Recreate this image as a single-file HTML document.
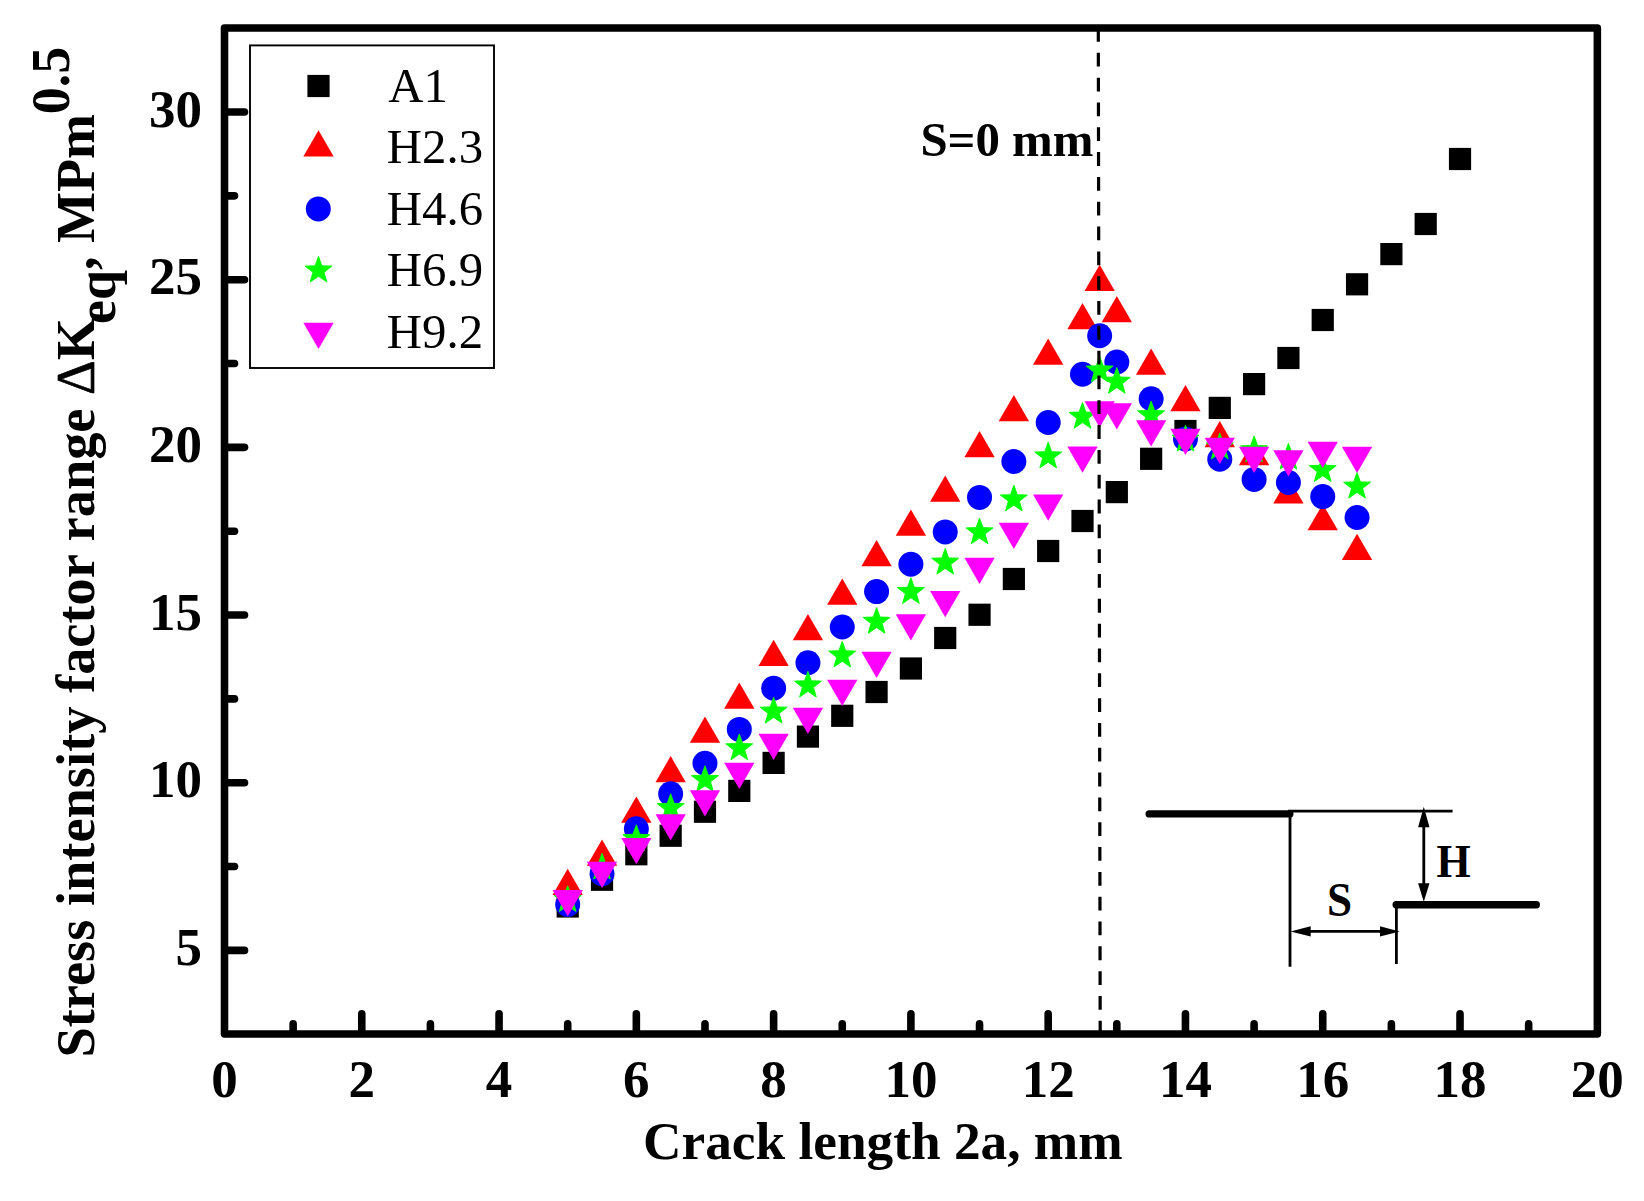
<!DOCTYPE html>
<html><head><meta charset="utf-8"><title>Stress intensity factor range</title>
<style>
html,body{margin:0;padding:0;background:#fff}
svg{display:block}
text{font-family:"Liberation Serif","Times New Roman",serif;fill:#000}
.b{font-weight:bold}
</style></head><body>
<svg width="1644" height="1201" viewBox="0 0 1644 1201">
<rect width="1644" height="1201" fill="#fff"/>
<g stroke="#000" stroke-width="7.6" stroke-linecap="round" fill="none">
<path d="M293.14 1029.9V1023.9"/>
<path d="M361.78 1029.9V1013.9"/>
<path d="M430.42 1029.9V1023.9"/>
<path d="M499.06 1029.9V1013.9"/>
<path d="M567.7 1029.9V1023.9"/>
<path d="M636.34 1029.9V1013.9"/>
<path d="M704.98 1029.9V1023.9"/>
<path d="M773.62 1029.9V1013.9"/>
<path d="M842.26 1029.9V1023.9"/>
<path d="M910.9 1029.9V1013.9"/>
<path d="M979.54 1029.9V1023.9"/>
<path d="M1048.18 1029.9V1013.9"/>
<path d="M1116.82 1029.9V1023.9"/>
<path d="M1185.46 1029.9V1013.9"/>
<path d="M1254.1 1029.9V1023.9"/>
<path d="M1322.74 1029.9V1013.9"/>
<path d="M1391.38 1029.9V1023.9"/>
<path d="M1460.02 1029.9V1013.9"/>
<path d="M1528.66 1029.9V1023.9"/>
<path d="M228.5 950.4H244.5"/>
<path d="M228.5 866.56H234.5"/>
<path d="M228.5 782.72H244.5"/>
<path d="M228.5 698.88H234.5"/>
<path d="M228.5 615.04H244.5"/>
<path d="M228.5 531.2H234.5"/>
<path d="M228.5 447.36H244.5"/>
<path d="M228.5 363.52H234.5"/>
<path d="M228.5 279.68H244.5"/>
<path d="M228.5 195.84H234.5"/>
<path d="M228.5 112H244.5"/>
</g>
<rect x="224.5" y="28" width="1372.85" height="1005.9" fill="none" stroke="#000" stroke-width="7.55" stroke-linejoin="round"/>
<g class="b" font-size="53" text-anchor="middle">
<text x="224.5" y="1096.5">0</text>
<text x="361.78" y="1096.5">2</text>
<text x="499.06" y="1096.5">4</text>
<text x="636.34" y="1096.5">6</text>
<text x="773.62" y="1096.5">8</text>
<text x="910.9" y="1096.5">10</text>
<text x="1048.18" y="1096.5">12</text>
<text x="1185.46" y="1096.5">14</text>
<text x="1322.74" y="1096.5">16</text>
<text x="1460.02" y="1096.5">18</text>
<text x="1597.3" y="1096.5">20</text>
</g>
<g class="b" font-size="53" text-anchor="end">
<text x="202" y="965">5</text>
<text x="202" y="797.32">10</text>
<text x="202" y="629.64">15</text>
<text x="202" y="461.96">20</text>
<text x="202" y="294.28">25</text>
<text x="202" y="126.6">30</text>
</g>
<text class="b" font-size="53.3" x="643" y="1158.5">Crack length 2a, mm</text>
<text class="b" font-size="54.4" transform="translate(93.8 1057.6) rotate(-90)">Stress intensity factor range <tspan font-weight="normal" font-size="54" stroke="#000" stroke-width="0.7">Δ</tspan>K<tspan font-size="54" dy="21" dx="-6.2">eq</tspan><tspan font-size="54" dy="-21">, MPm</tspan><tspan font-size="54" dy="-25">0.5</tspan></text>
<rect x="250" y="45.4" width="244" height="322.6" fill="#fff" stroke="#000" stroke-width="1.9"/>
<g font-size="48.8">
<text x="388.2" y="101.6">A1</text>
<text x="386.8" y="163.1">H2.3</text>
<text x="386.8" y="224.6">H4.6</text>
<text x="386.8" y="286.1">H6.9</text>
<text x="386.8" y="347.6">H9.2</text>
</g>
<g fill="#000"><rect x="556.6" y="895.4" width="22.2" height="22.2"/><rect x="590.92" y="868.65" width="22.2" height="22.2"/><rect x="625.24" y="843.15" width="22.2" height="22.2"/><rect x="659.56" y="824.65" width="22.2" height="22.2"/><rect x="693.88" y="800.65" width="22.2" height="22.2"/><rect x="728.2" y="779.8" width="22.2" height="22.2"/><rect x="762.52" y="751.8" width="22.2" height="22.2"/><rect x="796.84" y="725.5" width="22.2" height="22.2"/><rect x="831.16" y="704.7" width="22.2" height="22.2"/><rect x="865.48" y="680.9" width="22.2" height="22.2"/><rect x="899.8" y="657.4" width="22.2" height="22.2"/><rect x="934.12" y="626.9" width="22.2" height="22.2"/><rect x="968.44" y="603.65" width="22.2" height="22.2"/><rect x="1002.76" y="567.9" width="22.2" height="22.2"/><rect x="1037.08" y="539.9" width="22.2" height="22.2"/><rect x="1071.4" y="509.9" width="22.2" height="22.2"/><rect x="1105.72" y="481" width="22.2" height="22.2"/><rect x="1140.04" y="447.7" width="22.2" height="22.2"/><rect x="1174.36" y="419.9" width="22.2" height="22.2"/><rect x="1208.68" y="396.8" width="22.2" height="22.2"/><rect x="1243" y="373" width="22.2" height="22.2"/><rect x="1277.32" y="346.9" width="22.2" height="22.2"/><rect x="1311.64" y="308.9" width="22.2" height="22.2"/><rect x="1345.96" y="273.2" width="22.2" height="22.2"/><rect x="1380.28" y="243" width="22.2" height="22.2"/><rect x="1414.6" y="212.9" width="22.2" height="22.2"/><rect x="1448.92" y="147.9" width="22.2" height="22.2"/><rect x="307.4" y="74.9" width="22.2" height="22.2"/></g>
<g fill="#f00"><path d="M567.7 868.7L582.86 894.95H552.54Z"/><path d="M602.02 839.5L617.18 865.75H586.86Z"/><path d="M636.34 796.5L651.5 822.75H621.18Z"/><path d="M670.66 756.1L685.82 782.35H655.5Z"/><path d="M704.98 716.4L720.14 742.65H689.82Z"/><path d="M739.3 682.5L754.46 708.75H724.14Z"/><path d="M773.62 639.75L788.78 666H758.46Z"/><path d="M807.94 614.1L823.1 640.35H792.78Z"/><path d="M842.26 578.5L857.42 604.75H827.1Z"/><path d="M876.58 540L891.74 566.25H861.42Z"/><path d="M910.9 509.6L926.06 535.85H895.74Z"/><path d="M945.22 475.5L960.38 501.75H930.06Z"/><path d="M979.54 430.9L994.7 457.15H964.38Z"/><path d="M1013.86 395L1029.02 421.25H998.7Z"/><path d="M1048.18 338.5L1063.34 364.75H1033.02Z"/><path d="M1082.5 302.9L1097.66 329.15H1067.34Z"/><path d="M1099.66 264.75L1114.82 291H1084.5Z"/><path d="M1116.82 295.9L1131.98 322.15H1101.66Z"/><path d="M1151.14 348.5L1166.3 374.75H1135.98Z"/><path d="M1185.46 385L1200.62 411.25H1170.3Z"/><path d="M1219.78 420.9L1234.94 447.15H1204.62Z"/><path d="M1254.1 439.1L1269.26 465.35H1238.94Z"/><path d="M1288.42 477.25L1303.58 503.5H1273.26Z"/><path d="M1322.74 504L1337.9 530.25H1307.58Z"/><path d="M1357.06 533.75L1372.22 560H1341.9Z"/><path d="M318.5 130.2L333.66 156.45H303.34Z"/></g>
<g fill="#00f"><circle cx="567.7" cy="904.5" r="12.5"/><circle cx="602.02" cy="873.75" r="12.5"/><circle cx="636.34" cy="828.75" r="12.5"/><circle cx="670.66" cy="793.75" r="12.5"/><circle cx="704.98" cy="763.25" r="12.5"/><circle cx="739.3" cy="729.4" r="12.5"/><circle cx="773.62" cy="688.25" r="12.5"/><circle cx="807.94" cy="662.75" r="12.5"/><circle cx="842.26" cy="627" r="12.5"/><circle cx="876.58" cy="591.6" r="12.5"/><circle cx="910.9" cy="564.25" r="12.5"/><circle cx="945.22" cy="531.9" r="12.5"/><circle cx="979.54" cy="497.4" r="12.5"/><circle cx="1013.86" cy="461.5" r="12.5"/><circle cx="1048.18" cy="422.5" r="12.5"/><circle cx="1082.5" cy="374.25" r="12.5"/><circle cx="1099.66" cy="335.75" r="12.5"/><circle cx="1116.82" cy="362" r="12.5"/><circle cx="1151.14" cy="398.75" r="12.5"/><circle cx="1185.46" cy="439" r="12.5"/><circle cx="1219.78" cy="459.25" r="12.5"/><circle cx="1254.1" cy="479.4" r="12.5"/><circle cx="1288.42" cy="482.5" r="12.5"/><circle cx="1322.74" cy="496.6" r="12.5"/><circle cx="1357.06" cy="517.5" r="12.5"/><circle cx="318.3" cy="208.9" r="12.5"/></g>
<g fill="#0f0" stroke="#0f0" stroke-width="0.9" stroke-linejoin="round"><polygon points="567.7,885.8 571.12,895.29 581.21,895.61 573.24,901.8 576.05,911.49 567.7,905.82 559.35,911.49 562.16,901.8 554.19,895.61 564.28,895.29"/><polygon points="602.02,853.3 605.44,862.79 615.53,863.11 607.56,869.3 610.37,878.99 602.02,873.32 593.67,878.99 596.48,869.3 588.51,863.11 598.6,862.79"/><polygon points="636.34,824.8 639.76,834.29 649.85,834.61 641.88,840.8 644.69,850.49 636.34,844.82 627.99,850.49 630.8,840.8 622.83,834.61 632.92,834.29"/><polygon points="670.66,793.8 674.08,803.29 684.17,803.61 676.2,809.8 679.01,819.49 670.66,813.82 662.31,819.49 665.12,809.8 657.15,803.61 667.24,803.29"/><polygon points="704.98,765.8 708.4,775.29 718.49,775.61 710.52,781.8 713.33,791.49 704.98,785.82 696.63,791.49 699.44,781.8 691.47,775.61 701.56,775.29"/><polygon points="739.3,734.05 742.72,743.54 752.81,743.86 744.84,750.05 747.65,759.74 739.3,754.07 730.95,759.74 733.76,750.05 725.79,743.86 735.88,743.54"/><polygon points="773.62,697.4 777.04,706.89 787.13,707.21 779.16,713.4 781.97,723.09 773.62,717.42 765.27,723.09 768.08,713.4 760.11,707.21 770.2,706.89"/><polygon points="807.94,671.3 811.36,680.79 821.45,681.11 813.48,687.3 816.29,696.99 807.94,691.32 799.59,696.99 802.4,687.3 794.43,681.11 804.52,680.79"/><polygon points="842.26,641.3 845.68,650.79 855.77,651.11 847.8,657.3 850.61,666.99 842.26,661.32 833.91,666.99 836.72,657.3 828.75,651.11 838.84,650.79"/><polygon points="876.58,607.55 880,617.04 890.09,617.36 882.12,623.55 884.93,633.24 876.58,627.57 868.23,633.24 871.04,623.55 863.07,617.36 873.16,617.04"/><polygon points="910.9,577.8 914.32,587.29 924.41,587.61 916.44,593.8 919.25,603.49 910.9,597.82 902.55,603.49 905.36,593.8 897.39,587.61 907.48,587.29"/><polygon points="945.22,548.4 948.64,557.89 958.73,558.21 950.76,564.4 953.57,574.09 945.22,568.42 936.87,574.09 939.68,564.4 931.71,558.21 941.8,557.89"/><polygon points="979.54,518.1 982.96,527.59 993.05,527.91 985.08,534.1 987.89,543.79 979.54,538.12 971.19,543.79 974,534.1 966.03,527.91 976.12,527.59"/><polygon points="1013.86,485.2 1017.28,494.69 1027.37,495.01 1019.4,501.2 1022.21,510.89 1013.86,505.22 1005.51,510.89 1008.32,501.2 1000.35,495.01 1010.44,494.69"/><polygon points="1048.18,442.2 1051.6,451.69 1061.69,452.01 1053.72,458.2 1056.53,467.89 1048.18,462.22 1039.83,467.89 1042.64,458.2 1034.67,452.01 1044.76,451.69"/><polygon points="1082.5,402.55 1085.92,412.04 1096.01,412.36 1088.04,418.55 1090.85,428.24 1082.5,422.57 1074.15,428.24 1076.96,418.55 1068.99,412.36 1079.08,412.04"/><polygon points="1099.66,356.3 1103.08,365.79 1113.17,366.11 1105.2,372.3 1108.01,381.99 1099.66,376.32 1091.31,381.99 1094.12,372.3 1086.15,366.11 1096.24,365.79"/><polygon points="1116.82,367.55 1120.24,377.04 1130.33,377.36 1122.36,383.55 1125.17,393.24 1116.82,387.57 1108.47,393.24 1111.28,383.55 1103.31,377.36 1113.4,377.04"/><polygon points="1151.14,401.05 1154.56,410.54 1164.65,410.86 1156.68,417.05 1159.49,426.74 1151.14,421.07 1142.79,426.74 1145.6,417.05 1137.63,410.86 1147.72,410.54"/><polygon points="1185.46,425.3 1188.88,434.79 1198.97,435.11 1191,441.3 1193.81,450.99 1185.46,445.32 1177.11,450.99 1179.92,441.3 1171.95,435.11 1182.04,434.79"/><polygon points="1219.78,433.1 1223.2,442.59 1233.29,442.91 1225.32,449.1 1228.13,458.79 1219.78,453.12 1211.43,458.79 1214.24,449.1 1206.27,442.91 1216.36,442.59"/><polygon points="1254.1,436.05 1257.52,445.54 1267.61,445.86 1259.64,452.05 1262.45,461.74 1254.1,456.07 1245.75,461.74 1248.56,452.05 1240.59,445.86 1250.68,445.54"/><polygon points="1288.42,443.3 1291.84,452.79 1301.93,453.11 1293.96,459.3 1296.77,468.99 1288.42,463.32 1280.07,468.99 1282.88,459.3 1274.91,453.11 1285,452.79"/><polygon points="1322.74,455.8 1326.16,465.29 1336.25,465.61 1328.28,471.8 1331.09,481.49 1322.74,475.82 1314.39,481.49 1317.2,471.8 1309.23,465.61 1319.32,465.29"/><polygon points="1357.06,472.4 1360.48,481.89 1370.57,482.21 1362.6,488.4 1365.41,498.09 1357.06,492.42 1348.71,498.09 1351.52,488.4 1343.55,482.21 1353.64,481.89"/><polygon points="318.5,256.3 321.92,265.79 332.01,266.11 324.04,272.3 326.85,281.99 318.5,276.32 310.15,281.99 312.96,272.3 304.99,266.11 315.08,265.79"/></g>
<g fill="#f0f"><path d="M567.7 916.25L582.86 890H552.54Z"/><path d="M602.02 888L617.18 861.75H586.86Z"/><path d="M636.34 864.25L651.5 838H621.18Z"/><path d="M670.66 840.4L685.82 814.15H655.5Z"/><path d="M704.98 816.5L720.14 790.25H689.82Z"/><path d="M739.3 789.1L754.46 762.85H724.14Z"/><path d="M773.62 760L788.78 733.75H758.46Z"/><path d="M807.94 734L823.1 707.75H792.78Z"/><path d="M842.26 706L857.42 679.75H827.1Z"/><path d="M876.58 677.9L891.74 651.65H861.42Z"/><path d="M910.9 640.4L926.06 614.15H895.74Z"/><path d="M945.22 617.25L960.38 591H930.06Z"/><path d="M979.54 584.1L994.7 557.85H964.38Z"/><path d="M1013.86 548.9L1029.02 522.65H998.7Z"/><path d="M1048.18 520.7L1063.34 494.45H1033.02Z"/><path d="M1082.5 472.75L1097.66 446.5H1067.34Z"/><path d="M1099.66 427.5L1114.82 401.25H1084.5Z"/><path d="M1116.82 429.5L1131.98 403.25H1101.66Z"/><path d="M1151.14 446.5L1166.3 420.25H1135.98Z"/><path d="M1185.46 455L1200.62 428.75H1170.3Z"/><path d="M1219.78 464.1L1234.94 437.85H1204.62Z"/><path d="M1254.1 473.1L1269.26 446.85H1238.94Z"/><path d="M1288.42 476.5L1303.58 450.25H1273.26Z"/><path d="M1322.74 468L1337.9 441.75H1307.58Z"/><path d="M1357.06 473L1372.22 446.75H1341.9Z"/><path d="M318.5 349L333.66 322.75H303.34Z"/></g>
<path d="M1098.3 28L1100.2 1032" stroke="#000" stroke-width="3.2" stroke-dasharray="13.8 11.02" fill="none"/>
<text class="b" font-size="48.9" x="920.4" y="155.6">S=0 mm</text>
<g stroke="#000" fill="none">
<path d="M1149.2 813.9H1289.8" stroke-width="7.4" stroke-linecap="round"/>
<path d="M1396.2 904.7H1536.3" stroke-width="7.4" stroke-linecap="round"/>
<path d="M1288 811.2H1452.6M1290 812V966.7M1396.4 904.6V963.9M1423.8 815V895M1300 931.4H1390" stroke-width="2.8"/>
</g>
<g fill="#000">
<path d="M1423.8 806.8L1429.5 827.3H1418.1Z"/><path d="M1423.8 901.8L1429.5 883.3H1418.1Z"/>
<path d="M1290.5 931.4L1310.7 926.2V936.6Z"/><path d="M1399.6 931.4L1380 926.2V936.6Z"/>
</g>
<text class="b" font-size="47.5" text-anchor="middle" transform="translate(1339.6 915.8) scale(0.95 1)">S</text>
<text class="b" font-size="46" text-anchor="middle" transform="translate(1453.5 876.9) scale(0.955 1)">H</text>
</svg></body></html>
